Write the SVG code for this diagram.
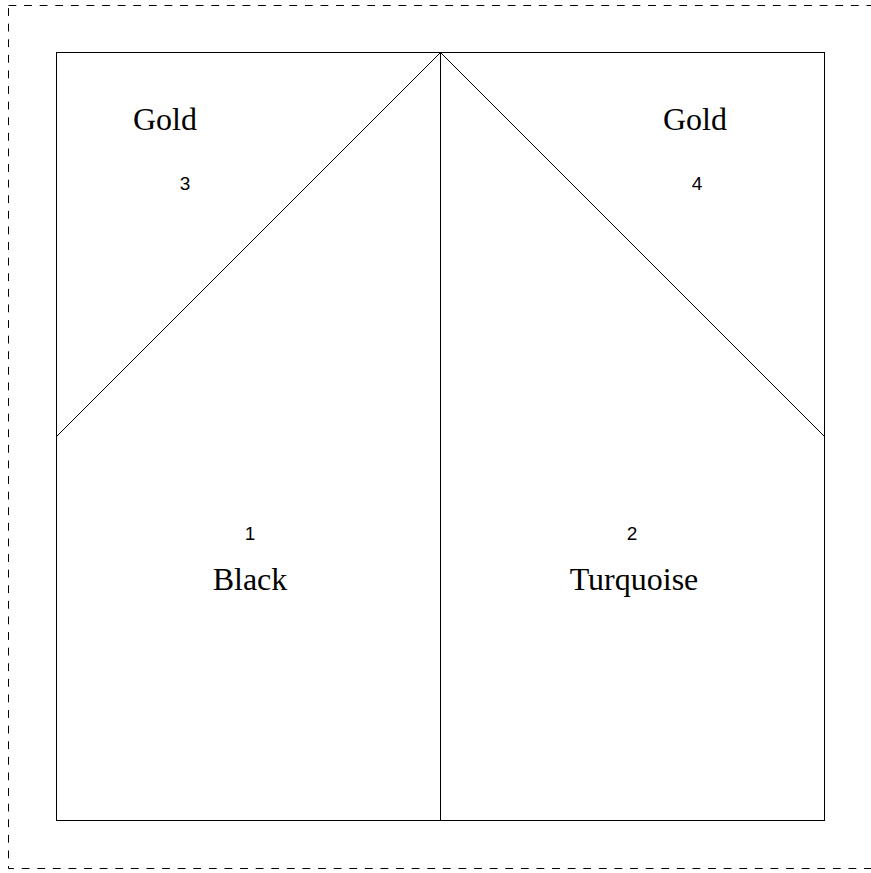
<svg xmlns="http://www.w3.org/2000/svg" width="871" height="873" viewBox="0 0 871 873">
<style>
.frame{fill:none;stroke:#000;stroke-width:1;stroke-dasharray:7.8,7.8}
.edge{fill:none;stroke:#000;stroke-width:1}
.name{font-family:"Liberation Serif","Times New Roman",serif;font-size:32px;fill:#000;text-anchor:middle}
.num{font-family:"Liberation Sans",Arial,sans-serif;font-size:19px;fill:#000;text-anchor:middle}
</style>
<rect width="871" height="873" fill="#fff"/>
<rect class="frame" x="8.5" y="5.5" width="866" height="863"/>
<g id="block">
<rect class="edge" x="56.5" y="52.5" width="768" height="768"/>
</g>
<g id="connectors">
<line class="edge" x1="440.5" y1="52.5" x2="440.5" y2="820.5"/>
<line class="edge" x1="440.5" y1="52.5" x2="56.5" y2="436.5"/>
<line class="edge" x1="440.5" y1="52.5" x2="824.5" y2="436.5"/>
</g>
<g id="patch1">
<text class="num" x="250" y="540">1</text>
<text class="name" x="250" y="590">Black</text>
</g>
<g id="patch2">
<text class="num" x="632" y="540">2</text>
<text class="name" x="634" y="590">Turquoise</text>
</g>
<g id="patch3">
<text class="name" x="165" y="130">Gold</text>
<text class="num" x="185" y="190">3</text>
</g>
<g id="patch4">
<text class="name" x="695" y="130">Gold</text>
<text class="num" x="697" y="190">4</text>
</g>
</svg>
